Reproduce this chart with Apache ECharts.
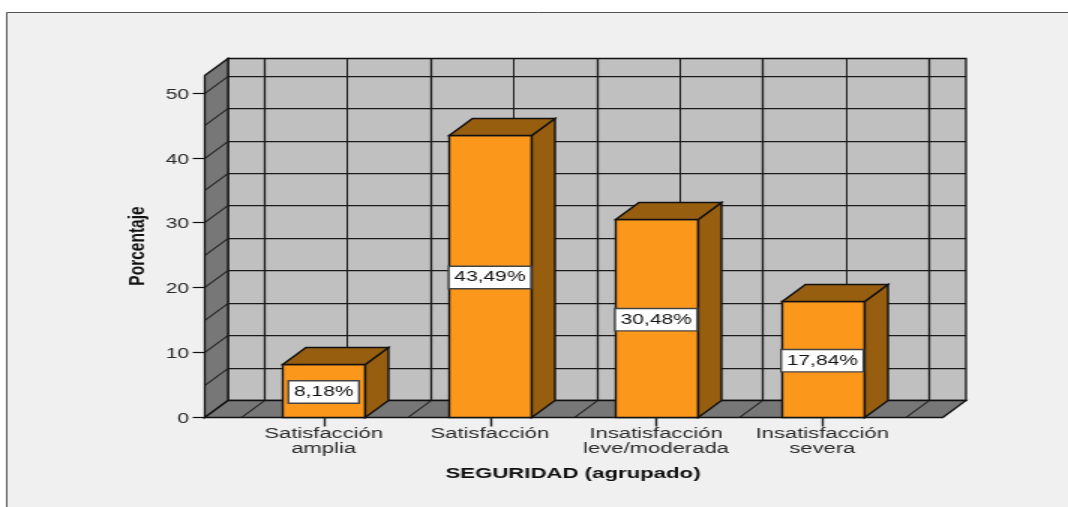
<!DOCTYPE html>
<html>
<head>
<meta charset="utf-8">
<title>SEGURIDAD (agrupado)</title>
<style>
html,body{margin:0;padding:0;background:#fff;overflow:hidden;width:1068px;height:507px}
#main{width:712px;height:507px;transform:scaleX(1.5);transform-origin:0 0}
</style>
<script src="https://cdn.jsdelivr.net/npm/echarts@6/dist/echarts.min.js"></script>
</head>
<body>
<div id="main"></div>
<script>
const categories = ['Satisfacción\namplia', 'Satisfacción', 'Insatisfacción\nleve/moderada', 'Insatisfacción\nsevera'];
const values = [8.18, 43.49, 30.48, 17.84];
const yTickLabels = [0, 10, 20, 30, 40, 50];
const yGridLines = [5, 10, 15, 20, 25, 30, 35, 40, 45, 50];
const xGridLines = [-0.5, 0, 0.5, 1, 1.5, 2, 2.5, 3, 3.5];
const xTicks = [0, 1, 2, 3];
const yMax = 52.75, xMin = -0.72, xMax = 3.72, barHalf = 0.25;
const DX = 15.5, DY = -17, TICK = 8;
const font = '"Liberation Sans", Arial, sans-serif';
const ink = '#111';
const crisp = v => Math.round(v) + 0.5;
const seg = (a, b, stroke, w) => ({type:'line', z2:5, shape:{x1:a[0],y1:a[1],x2:b[0],y2:b[1]}, style:{stroke, lineWidth:w||1}});
const poly = (pts, fill, w) => ({type:'polygon', shape:{points:pts}, style:{fill, stroke:ink, lineWidth:w||1, lineJoin:'miter'}});

function renderWalls(params, api) {
  const fl = api.coord([xMin, 0]), br = api.coord([xMax, yMax]);
  const L = crisp(fl[0]), B = crisp(fl[1]), R = crisp(br[0]), T = crisp(br[1]);
  const ch = [];
  ch.push(poly([[L+DX,T+DY],[R+DX,T+DY],[R+DX,B+DY],[L+DX,B+DY]], '#c0c0c0', 1.3));
  ch.push(poly([[L,T],[L+DX,T+DY],[L+DX,B+DY],[L,B]], '#777777', 1.3));
  ch.push(poly([[L,B],[L+DX,B+DY],[R+DX,B+DY],[R,B]], '#777777', 1.3));
  yGridLines.forEach(v => {
    const y = crisp(api.coord([xMin, v])[1]);
    ch.push(seg([L+DX, y+DY], [R+DX, y+DY], '#1a1a1a', 1.25));
    ch.push(seg([L, y], [L+DX, y+DY], '#1a1a1a', 1.1));
  });
  xGridLines.forEach(v => {
    const x = crisp(api.coord([v, 0])[0] + DX);
    ch.push(seg([x, T+DY], [x, B+DY], '#1a1a1a', Number.isInteger(v) ? 1 : 1.3));
    ch.push(seg([x-DX, B], [x, B+DY], '#1a1a1a', 1.1));
  });
  yTickLabels.forEach(v => {
    const y = crisp(api.coord([xMin, v])[1]);
    ch.push(seg([L-TICK, y], [L, y], ink, 1.2));
  });
  return {type:'group', children:ch};
}

function renderBar(params, api) {
  const i = api.value(0), v = api.value(1);
  const a = api.coord([i-barHalf, 0]), b = api.coord([i+barHalf, v]);
  const l = crisp(a[0]), r = crisp(b[0]), bot = crisp(a[1]), top = crisp(b[1]);
  const mid = api.coord([i, v/2]);
  const tx = crisp(api.coord([i, 0])[0]);
  return {type:'group', children:[
    seg([tx, bot], [tx, bot+TICK+1], '#222', 1.4),
    poly([[l,top],[r,top],[r,bot],[l,bot]], '#fb981c', 1.4),
    poly([[r,top],[r+DX,top+DY],[r+DX,bot+DY],[r,bot]], '#975e10', 1.4),
    poly([[l,top],[l+DX,top+DY],[r+DX,top+DY],[r,top]], '#975e10', 1.4),
    {type:'text', x:mid[0], y:mid[1]+1.5, style:{
      text: v.toFixed(2).replace('.', ',') + '%',
      font: '14px ' + font, fill:'#111', align:'center', verticalAlign:'middle',
      backgroundColor:'#fff', borderColor:'#444', borderWidth:1.4, padding:[4,3,3,3]
    }}
  ]};
}

const chart = echarts.init(document.getElementById('main'), null, {width:712, height:507, renderer:'canvas'});
chart.setOption({
  animation:false,
  backgroundColor:'#fff',
  graphic:[{type:'rect', z:-10, silent:true, shape:{x:4.5,y:12.5,width:760,height:520}, style:{fill:'#f0f0f0', stroke:'#555', lineWidth:1}}],
  grid:{left:136, top:75, width:492, height:342},
  xAxis:{
    type:'value', min:xMin, max:xMax, splitLine:{show:false},
    name:'SEGURIDAD (agrupado)', nameLocation:'middle', nameGap:49,
    nameTextStyle:{fontFamily:font, fontSize:14.8, fontWeight:'bold', color:ink},
    axisLine:{show:true, onZero:false, lineStyle:{color:ink}},
    axisTick:{show:false},
    axisLabel:{customValues:xTicks, formatter:v => categories[Math.round(v)], margin:9, fontFamily:font, fontSize:14.7, lineHeight:15, color:'#2a2a2a', hideOverlap:false}
  },
  yAxis:{
    type:'value', min:0, max:yMax, splitLine:{show:false},
    name:'Porcentaje', nameLocation:'middle', nameGap:36,
    nameTextStyle:{fontFamily:font, fontSize:15.5, fontWeight:'bold', color:ink},
    axisLine:{show:true, lineStyle:{color:ink}},
    axisTick:{show:false},
    axisLabel:{customValues:yTickLabels, margin:10, verticalAlign:'top', lineHeight:4, fontFamily:font, fontSize:14, color:'#2a2a2a', hideOverlap:false}
  },
  series:[
    {type:'custom', name:'walls', clip:false, silent:true, z:1, data:[[0,0]], renderItem:renderWalls, encode:{x:0,y:1}},
    {type:'custom', name:'Porcentaje', clip:false, z:3, data:values.map((v,i)=>[i,v]), renderItem:renderBar, encode:{x:0,y:1}}
  ]
});
</script>
</body>
</html>
